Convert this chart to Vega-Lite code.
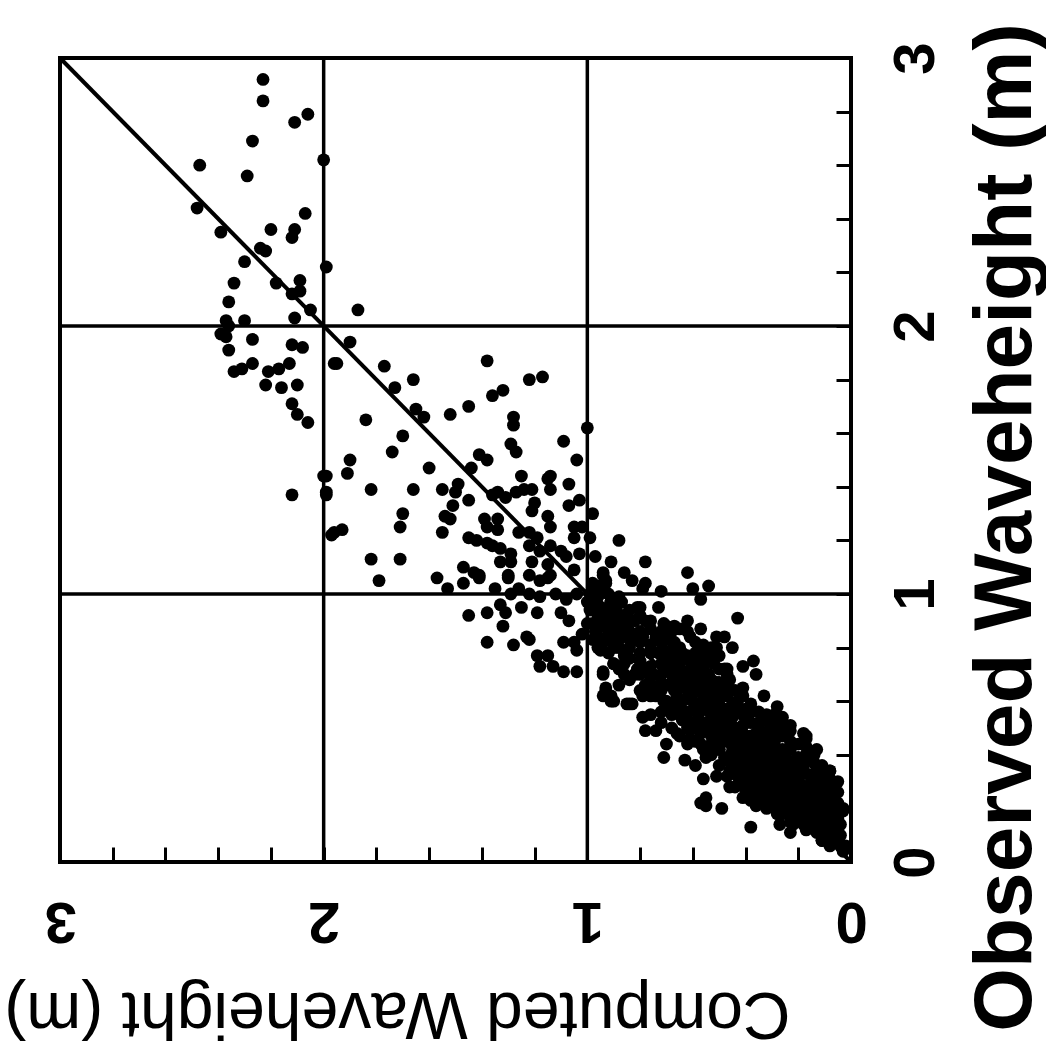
{
  "$schema": "https://vega.github.io/schema/vega-lite/v6.json",
  "autosize": {"type": "none"},
  "padding": {"left": 60, "top": 58, "right": 195, "bottom": 196},
  "width": 791,
  "height": 804,
  "background": "white",
  "config": {
    "view": {"stroke": "black", "strokeWidth": 4},
    "axis": {"domain": false, "grid": false, "ticks": true, "tickColor": "black", "tickWidth": 3, "tickSize": -15, "labelFont": "Liberation Sans", "labelFontWeight": "bold", "labelColor": "black", "labelFontSize": 58, "titleColor": "black", "titleFont": "Liberation Sans", "labelOverlap": false, "labelFlush": false, "labelBound": false}
  },
  "datasets": {
    "pts": [
      {"c":2.23,"o":2.92},{"c":2.23,"o":2.84},{"c":2.11,"o":2.76},{"c":2.06,"o":2.79},{"c":2.27,"o":2.69},{"c":2.00,"o":2.62},{"c":2.47,"o":2.60},{"c":2.29,"o":2.56},{"c":2.48,"o":2.44},{"c":2.07,"o":2.42},{"c":2.20,"o":2.36},{"c":2.11,"o":2.36},{"c":2.12,"o":2.33},{"c":2.39,"o":2.35},{"c":2.24,"o":2.29},{"c":2.22,"o":2.28},{"c":2.30,"o":2.24},{"c":1.99,"o":2.22},{"c":2.34,"o":2.16},{"c":2.18,"o":2.16},{"c":2.09,"o":2.17},{"c":2.12,"o":2.12},{"c":2.09,"o":2.13},{"c":2.36,"o":2.09},{"c":2.05,"o":2.06},{"c":2.11,"o":2.03},{"c":2.30,"o":2.02},{"c":2.37,"o":2.02},{"c":2.36,"o":2.00},
      {"c":2.39,"o":1.97},{"c":2.37,"o":1.96},{"c":2.27,"o":1.95},{"c":2.36,"o":1.91},{"c":2.12,"o":1.93},{"c":2.08,"o":1.92},{"c":2.34,"o":1.83},{"c":2.31,"o":1.84},{"c":2.27,"o":1.86},{"c":2.13,"o":1.86},{"c":2.17,"o":1.84},{"c":2.21,"o":1.83},{"c":2.22,"o":1.78},{"c":2.16,"o":1.77},{"c":2.10,"o":1.78},{"c":2.12,"o":1.71},{"c":2.10,"o":1.67},{"c":2.06,"o":1.64},{"c":1.99,"o":1.44},{"c":1.99,"o":1.37},{"c":2.12,"o":1.37},{"c":1.96,"o":1.23},{"c":1.96,"o":1.86},
      {"c":1.87,"o":2.06},{"c":1.90,"o":1.94},{"c":1.95,"o":1.86},{"c":1.77,"o":1.85},{"c":1.66,"o":1.80},{"c":1.73,"o":1.77},{"c":1.38,"o":1.87},{"c":1.22,"o":1.80},{"c":1.17,"o":1.81},{"c":1.36,"o":1.74},{"c":1.32,"o":1.76},{"c":1.45,"o":1.70},{"c":1.52,"o":1.67},{"c":1.65,"o":1.69},{"c":1.62,"o":1.66},{"c":1.84,"o":1.65},{"c":1.28,"o":1.66},{"c":1.28,"o":1.63},{"c":1.00,"o":1.62},{"c":1.70,"o":1.59},{"c":1.09,"o":1.57},{"c":1.29,"o":1.56},{"c":1.27,"o":1.53},{"c":1.74,"o":1.53},{"c":1.41,"o":1.52},{"c":1.38,"o":1.50},{"c":1.90,"o":1.50},{"c":1.04,"o":1.50},{"c":1.91,"o":1.45},{"c":1.60,"o":1.47},{"c":1.44,"o":1.47},{"c":1.25,"o":1.44},{"c":1.14,"o":1.44},{"c":1.15,"o":1.43},{"c":1.07,"o":1.41},{"c":2.00,"o":1.44},{"c":1.99,"o":1.38},{"c":1.82,"o":1.39},{"c":1.66,"o":1.39},{"c":1.55,"o":1.39},{"c":1.49,"o":1.41},{"c":1.50,"o":1.38},{"c":1.21,"o":1.39},{"c":1.45,"o":1.35},{"c":1.36,"o":1.37},{"c":1.34,"o":1.38},{"c":1.31,"o":1.36},{"c":1.27,"o":1.38},{"c":1.24,"o":1.39},{"c":1.20,"o":1.34},{"c":1.21,"o":1.31},{"c":1.14,"o":1.39},{"c":1.07,"o":1.33},{"c":1.03,"o":1.35},{"c":1.70,"o":1.30},{"c":1.71,"o":1.25},{"c":1.51,"o":1.33},{"c":1.54,"o":1.29},{"c":1.52,"o":1.28},{"c":1.93,"o":1.24},{"c":1.97,"o":1.22},{"c":1.55,"o":1.23},{"c":1.39,"o":1.28},{"c":1.34,"o":1.28},{"c":1.38,"o":1.25},{"c":1.34,"o":1.24},{"c":1.15,"o":1.29},{"c":1.14,"o":1.25},{"c":1.05,"o":1.25},{"c":1.02,"o":1.25},{"c":0.98,"o":1.30},{"c":1.05,"o":1.21},{"c":0.99,"o":1.21},{"c":1.45,"o":1.21},{"c":1.42,"o":1.20},{"c":1.38,"o":1.19},{"c":1.36,"o":1.18},{"c":1.33,"o":1.17},{"c":1.29,"o":1.15},{"c":1.26,"o":1.23},{"c":1.22,"o":1.23},{"c":1.19,"o":1.21},{"c":1.22,"o":1.18},{"c":1.18,"o":1.16},{"c":1.14,"o":1.18},{"c":1.10,"o":1.16},{"c":1.08,"o":1.14},{"c":1.03,"o":1.15},{"c":1.33,"o":1.12},{"c":1.29,"o":1.12},{"c":1.21,"o":1.12},{"c":1.15,"o":1.11},{"c":1.82,"o":1.13},{"c":1.71,"o":1.13},{"c":1.47,"o":1.10},{"c":1.43,"o":1.08},{"c":1.41,"o":1.07},{"c":1.57,"o":1.06},{"c":1.30,"o":1.07},{"c":1.22,"o":1.07},{"c":1.14,"o":1.07},{"c":1.05,"o":1.09},{"c":1.79,"o":1.05},
      {"c":1.41,"o":1.06},{"c":1.47,"o":1.04},{"c":1.53,"o":1.02},{"c":1.30,"o":1.06},{"c":1.35,"o":1.02},{"c":1.18,"o":1.05},{"c":1.15,"o":1.06},{"c":1.26,"o":1.02},{"c":1.29,"o":1.00},{"c":1.22,"o":1.00},{"c":1.18,"o":0.99},{"c":1.12,"o":1.00},{"c":1.45,"o":0.92},{"c":1.38,"o":0.93},{"c":1.33,"o":0.96},{"c":1.31,"o":0.93},{"c":1.25,"o":0.95},{"c":1.19,"o":0.93},{"c":1.32,"o":0.88},{"c":1.38,"o":0.82},{"c":1.28,"o":0.81},{"c":1.23,"o":0.84},{"c":1.22,"o":0.83},{"c":1.19,"o":0.77},{"c":1.15,"o":0.77},{"c":1.18,"o":0.73},{"c":1.13,"o":0.73},{"c":1.09,"o":0.71},{"c":1.04,"o":0.71},{"c":1.10,"o":0.93},{"c":1.07,"o":0.90},{"c":1.09,"o":0.82},{"c":1.05,"o":0.82},{"c":1.04,"o":0.79},{"c":1.08,"o":0.98},{"c":1.04,"o":1.00},{"c":1.00,"o":0.89},{"c":1.02,"o":0.85},{"c":0.96,"o":0.90},{"c":0.93,"o":0.88},{"c":0.98,"o":0.83},{"c":0.94,"o":0.82},{"c":0.90,"o":0.84},{"c":0.99,"o":1.00},{"c":0.96,"o":1.03},{"c":0.93,"o":1.05},{"c":0.94,"o":1.08},{"c":0.91,"o":0.97},{"c":0.90,"o":0.74},{"c":0.94,"o":0.70},{"c":0.93,"o":0.64},{"c":0.90,"o":0.60},
      {"c":0.88,"o":1.20},{"c":0.97,"o":1.14},{"c":0.91,"o":1.12},{"c":0.86,"o":1.08},{"c":0.83,"o":1.05},{"c":0.78,"o":1.12},{"c":0.62,"o":1.08},{"c":0.78,"o":1.04},{"c":0.79,"o":1.02},{"c":0.72,"o":1.01},{"c":0.60,"o":1.02},{"c":0.54,"o":1.03},{"c":0.57,"o":0.98},{"c":0.94,"o":1.07},{"c":0.91,"o":0.97},{"c":0.43,"o":0.91},{"c":0.81,"o":0.95},{"c":0.73,"o":0.95},{"c":0.78,"o":0.90},{"c":0.70,"o":0.88},{"c":0.62,"o":0.90},{"c":0.57,"o":0.87},{"c":0.61,"o":0.84},{"c":0.51,"o":0.84},{"c":0.48,"o":0.84},{"c":0.51,"o":0.80},{"c":0.45,"o":0.80},{"c":0.96,"o":0.92},{"c":0.89,"o":0.90},{"c":0.85,"o":0.86},{"c":0.96,"o":0.84},{"c":0.93,"o":0.83},{"c":0.79,"o":0.84},{"c":0.74,"o":0.83},{"c":0.67,"o":0.82},{"c":0.76,"o":0.78},{"c":0.70,"o":0.77},{"c":0.64,"o":0.78},{"c":0.59,"o":0.78},{"c":0.56,"o":0.74},{"c":0.90,"o":0.74},{"c":0.86,"o":0.77},{"c":0.86,"o":0.70},{"c":0.94,"o":0.71},{"c":0.93,"o":0.65},{"c":0.88,"o":0.66},{"c":0.81,"o":0.72},{"c":0.76,"o":0.69},{"c":0.70,"o":0.73},{"c":0.65,"o":0.70},{"c":0.60,"o":0.72},{"c":0.54,"o":0.70},{"c":0.47,"o":0.72},{"c":0.41,"o":0.73},{"c":0.37,"o":0.75},{"c":0.36,"o":0.70},{"c":0.41,"o":0.65},{"c":0.33,"o":0.62},{"c":0.46,"o":0.68},{"c":0.51,"o":0.67},{"c":0.74,"o":0.65},{"c":0.67,"o":0.64},{"c":0.61,"o":0.65},{"c":0.56,"o":0.64},{"c":0.91,"o":0.62},{"c":0.85,"o":0.59},{"c":0.79,"o":0.62},{"c":0.71,"o":0.60},{"c":0.64,"o":0.60},{"c":0.57,"o":0.59},{"c":0.50,"o":0.62},{"c":0.45,"o":0.59},
      {"c":0.98,"o":1.00},{"c":0.95,"o":0.95},{"c":0.98,"o":0.89},{"c":0.91,"o":0.87},{"c":0.85,"o":0.89},{"c":0.88,"o":0.83},{"c":0.83,"o":0.85},{"c":0.98,"o":1.04},{"c":0.93,"o":1.04},
      {"c":0.91,"o":0.60},{"c":0.84,"o":0.59},{"c":0.79,"o":0.54},{"c":0.78,"o":0.49},{"c":0.74,"o":0.49},{"c":0.70,"o":0.44},{"c":0.71,"o":0.39},{"c":0.63,"o":0.38},{"c":0.59,"o":0.36},{"c":0.55,"o":0.39},{"c":0.56,"o":0.31},{"c":0.51,"o":0.32},{"c":0.46,"o":0.28},{"c":0.55,"o":0.24},{"c":0.57,"o":0.22},{"c":0.55,"o":0.21},{"c":0.49,"o":0.20},{"c":0.38,"o":0.13},{"c":0.27,"o":0.14},{"c":0.23,"o":0.11},{"c":0.68,"o":0.55},{"c":0.66,"o":0.48},{"c":0.61,"o":0.46},{"c":0.57,"o":0.44},{"c":0.64,"o":0.53},{"c":0.59,"o":0.52},{"c":0.54,"o":0.51},{"c":0.54,"o":0.58},{"c":0.48,"o":0.57},{"c":0.43,"o":0.56},{"c":0.38,"o":0.56},{"c":0.31,"o":0.52},{"c":0.17,"o":0.46},{"c":0.08,"o":0.34},{"c":0.03,"o":0.20},{"c":0.12,"o":0.13},{"c":0.05,"o":0.11},
      {"c":0.48,"o":0.48},{"c":0.42,"o":0.46},{"c":0.36,"o":0.48},{"c":0.30,"o":0.44},{"c":0.23,"o":0.42},{"c":0.21,"o":0.38},{"c":0.26,"o":0.37},{"c":0.32,"o":0.38},{"c":0.38,"o":0.39},{"c":0.45,"o":0.41},{"c":0.50,"o":0.42},{"c":0.46,"o":0.34},{"c":0.40,"o":0.33},{"c":0.33,"o":0.32},{"c":0.27,"o":0.31},{"c":0.21,"o":0.31},{"c":0.14,"o":0.33},{"c":0.13,"o":0.27},{"c":0.18,"o":0.26},{"c":0.24,"o":0.24},{"c":0.31,"o":0.24},{"c":0.37,"o":0.26},{"c":0.41,"o":0.24},{"c":0.36,"o":0.21},{"c":0.28,"o":0.19},{"c":0.22,"o":0.19},{"c":0.16,"o":0.21},{"c":0.08,"o":0.23},{"c":0.11,"o":0.17},{"c":0.17,"o":0.16},{"c":0.22,"o":0.14},{"c":0.05,"o":0.16},{"c":0.08,"o":0.11},{"c":0.11,"o":0.08},{"c":0.05,"o":0.07},{"c":0.03,"o":0.05},{"c":0.13,"o":0.42},{"c":0.18,"o":0.48},{"c":0.23,"o":0.51},{"c":0.28,"o":0.47},{"c":0.12,"o":0.29},{"c":0.07,"o":0.28},{"c":0.28,"o":0.58},
      {"c":0.17,"o":0.47},{"c":0.08,"o":0.34},{"c":0.03,"o":0.19},{"c":0.04,"o":0.14},
      {"c":0.54,"o":0.65},{"c":0.47,"o":0.64},{"c":0.55,"o":0.58},{"c":0.50,"o":0.59},{"c":0.43,"o":0.60},{"c":0.40,"o":0.57},{"c":0.45,"o":0.54},{"c":0.50,"o":0.53},{"c":0.54,"o":0.49},{"c":0.47,"o":0.48},{"c":0.41,"o":0.51},{"c":0.35,"o":0.52},{"c":0.30,"o":0.49},{"c":0.26,"o":0.47},{"c":0.22,"o":0.44},{"c":0.32,"o":0.44},{"c":0.38,"o":0.44},{"c":0.45,"o":0.43},{"c":0.50,"o":0.42},{"c":0.42,"o":0.38},{"c":0.36,"o":0.38},{"c":0.28,"o":0.39},{"c":0.21,"o":0.38},{"c":0.16,"o":0.39},{"c":0.13,"o":0.34},{"c":0.19,"o":0.33},{"c":0.26,"o":0.33},{"c":0.32,"o":0.32},{"c":0.38,"o":0.33},{"c":0.43,"o":0.32},{"c":0.40,"o":0.27},{"c":0.33,"o":0.27},{"c":0.27,"o":0.27},{"c":0.21,"o":0.28},{"c":0.14,"o":0.28},{"c":0.09,"o":0.29},{"c":0.08,"o":0.24},{"c":0.13,"o":0.23},{"c":0.19,"o":0.23},{"c":0.26,"o":0.22},{"c":0.32,"o":0.22},{"c":0.36,"o":0.23},{"c":0.28,"o":0.18},{"c":0.22,"o":0.18},{"c":0.16,"o":0.18},{"c":0.11,"o":0.19},{"c":0.07,"o":0.17},{"c":0.12,"o":0.14},{"c":0.18,"o":0.14},{"c":0.08,"o":0.11},{"c":0.05,"o":0.08},{"c":0.13,"o":0.11},{"c":0.11,"o":0.08},{"c":0.04,"o":0.06},{"c":0.03,"o":0.04},
      {"c":0.95,"o":1.02},{"c":0.91,"o":0.97},{"c":0.94,"o":0.88},{"c":0.89,"o":0.88},{"c":0.91,"o":0.83},{"c":0.86,"o":0.85},{"c":0.84,"o":0.86},{"c":0.95,"o":0.79},{"c":0.90,"o":0.80},{"c":0.80,"o":0.95},{"c":0.76,"o":0.90},{"c":0.71,"o":0.89},{"c":0.67,"o":0.88},{"c":0.79,"o":0.85},{"c":0.74,"o":0.84},{"c":0.69,"o":0.83},{"c":0.80,"o":0.82},{"c":0.76,"o":0.79},{"c":0.71,"o":0.79},{"c":0.66,"o":0.78},{"c":0.61,"o":0.75},{"c":0.56,"o":0.77},{"c":0.52,"o":0.74},{"c":0.48,"o":0.72},{"c":0.70,"o":0.72},{"c":0.65,"o":0.72},{"c":0.60,"o":0.70},{"c":0.55,"o":0.69},{"c":0.50,"o":0.67},{"c":0.72,"o":0.67},{"c":0.67,"o":0.65},{"c":0.62,"o":0.65},{"c":0.57,"o":0.64},{"c":0.52,"o":0.63},{"c":0.47,"o":0.62},{"c":0.76,"o":0.62},{"c":0.70,"o":0.60},{"c":0.65,"o":0.60},{"c":0.60,"o":0.60},{"c":0.55,"o":0.59},{"c":0.83,"o":0.59},{"c":0.94,"o":0.62},
      {"c":0.75,"o":0.70},{"c":0.72,"o":0.74},{"c":0.70,"o":0.66},{"c":0.68,"o":0.70},{"c":0.66,"o":0.62},{"c":0.64,"o":0.68},{"c":0.62,"o":0.56},{"c":0.60,"o":0.63},{"c":0.58,"o":0.66},{"c":0.58,"o":0.55},{"c":0.56,"o":0.60},{"c":0.53,"o":0.56},{"c":0.52,"o":0.50},{"c":0.50,"o":0.55},{"c":0.49,"o":0.45},{"c":0.47,"o":0.51},{"c":0.46,"o":0.56},{"c":0.44,"o":0.47},{"c":0.43,"o":0.43},{"c":0.41,"o":0.48},{"c":0.40,"o":0.41},{"c":0.39,"o":0.36},{"c":0.37,"o":0.42},{"c":0.35,"o":0.46},{"c":0.35,"o":0.35},{"c":0.34,"o":0.40},{"c":0.33,"o":0.30},{"c":0.31,"o":0.36},{"c":0.30,"o":0.41},{"c":0.29,"o":0.28},{"c":0.28,"o":0.34},{"c":0.26,"o":0.29},{"c":0.25,"o":0.40},{"c":0.24,"o":0.35},{"c":0.23,"o":0.27},{"c":0.22,"o":0.32},{"c":0.20,"o":0.25},{"c":0.19,"o":0.29},{"c":0.18,"o":0.36},{"c":0.17,"o":0.21},{"c":0.16,"o":0.25},{"c":0.15,"o":0.30},{"c":0.14,"o":0.18},{"c":0.13,"o":0.21},{"c":0.12,"o":0.25},{"c":0.10,"o":0.14},{"c":0.10,"o":0.20},{"c":0.09,"o":0.16},{"c":0.07,"o":0.13},{"c":0.06,"o":0.09},{"c":0.06,"o":0.18},{"c":0.04,"o":0.10},{"c":0.02,"o":0.06},{"c":0.15,"o":0.13},{"c":0.20,"o":0.16},{"c":0.25,"o":0.20},{"c":0.30,"o":0.26},{"c":0.34,"o":0.25},{"c":0.39,"o":0.30},{"c":0.44,"o":0.37},{"c":0.48,"o":0.39},{"c":0.53,"o":0.44},{"c":0.57,"o":0.48},{"c":0.62,"o":0.50},{"c":0.66,"o":0.56},{"c":0.70,"o":0.58},{"c":0.74,"o":0.62},{"c":0.78,"o":0.66},{"c":0.82,"o":0.70},{"c":0.86,"o":0.74},{"c":0.88,"o":0.80},{"c":0.84,"o":0.80},{"c":0.80,"o":0.75},{"c":0.77,"o":0.72},{"c":0.73,"o":0.78},{"c":0.68,"o":0.76},{"c":0.63,"o":0.71},{"c":0.59,"o":0.69},{"c":0.55,"o":0.66},{"c":0.51,"o":0.60},{"c":0.46,"o":0.52},{"c":0.42,"o":0.44},{"c":0.37,"o":0.35},{"c":0.32,"o":0.29},{"c":0.27,"o":0.24},{"c":0.22,"o":0.21},{"c":0.17,"o":0.17},{"c":0.12,"o":0.12},{"c":0.09,"o":0.10},
      {"c":0.97,"o":0.97},{"c":0.95,"o":0.92},{"c":0.92,"o":0.93},{"c":0.99,"o":0.94},{"c":0.97,"o":0.86},{"c":0.93,"o":0.91},{"c":1.00,"o":0.97},{"c":0.96,"o":0.99},{"c":0.89,"o":0.94},{"c":0.86,"o":0.92},{"c":0.82,"o":0.90},{"c":0.84,"o":0.94},{"c":0.87,"o":0.97},
      {"c":0.05,"o":0.12},{"c":0.05,"o":0.22},{"c":0.05,"o":0.26},{"c":0.05,"o":0.30},{"c":0.08,"o":0.06},{"c":0.08,"o":0.20},{"c":0.08,"o":0.26},{"c":0.08,"o":0.31},{"c":0.11,"o":0.10},{"c":0.11,"o":0.22},{"c":0.11,"o":0.27},{"c":0.11,"o":0.32},{"c":0.11,"o":0.36},{"c":0.14,"o":0.15},{"c":0.14,"o":0.24},{"c":0.14,"o":0.31},{"c":0.14,"o":0.37},{"c":0.14,"o":0.40},{"c":0.17,"o":0.12},{"c":0.17,"o":0.19},{"c":0.17,"o":0.28},{"c":0.17,"o":0.33},{"c":0.17,"o":0.40},{"c":0.17,"o":0.43},{"c":0.20,"o":0.20},{"c":0.20,"o":0.29},{"c":0.20,"o":0.34},{"c":0.20,"o":0.39},{"c":0.20,"o":0.44},{"c":0.23,"o":0.15},{"c":0.23,"o":0.23},{"c":0.23,"o":0.30},{"c":0.23,"o":0.37},{"c":0.23,"o":0.45},{"c":0.23,"o":0.49},{"c":0.26,"o":0.18},{"c":0.26,"o":0.26},{"c":0.26,"o":0.36},{"c":0.26,"o":0.42},{"c":0.26,"o":0.50},{"c":0.26,"o":0.54},{"c":0.29,"o":0.22},{"c":0.29,"o":0.31},{"c":0.29,"o":0.37},{"c":0.29,"o":0.45},{"c":0.29,"o":0.51},{"c":0.29,"o":0.55},{"c":0.32,"o":0.20},{"c":0.32,"o":0.27},{"c":0.32,"o":0.35},{"c":0.32,"o":0.41},{"c":0.32,"o":0.48},{"c":0.32,"o":0.55},{"c":0.35,"o":0.28},{"c":0.35,"o":0.31},{"c":0.35,"o":0.43},{"c":0.35,"o":0.50},{"c":0.35,"o":0.56},{"c":0.38,"o":0.23},{"c":0.38,"o":0.29},{"c":0.38,"o":0.37},{"c":0.38,"o":0.47},{"c":0.38,"o":0.52},{"c":0.38,"o":0.59},{"c":0.41,"o":0.30},{"c":0.41,"o":0.36},{"c":0.41,"o":0.42},{"c":0.41,"o":0.55},{"c":0.41,"o":0.62},{"c":0.44,"o":0.28},{"c":0.44,"o":0.34},{"c":0.44,"o":0.41},{"c":0.44,"o":0.50},{"c":0.44,"o":0.57},{"c":0.44,"o":0.64},{"c":0.47,"o":0.32},{"c":0.47,"o":0.38},{"c":0.47,"o":0.45},{"c":0.47,"o":0.55},{"c":0.47,"o":0.66},{"c":0.47,"o":0.70},{"c":0.50,"o":0.36},{"c":0.50,"o":0.47},{"c":0.50,"o":0.51},{"c":0.50,"o":0.58},{"c":0.50,"o":0.64},{"c":0.50,"o":0.72},{"c":0.50,"o":0.77},{"c":0.53,"o":0.40},{"c":0.53,"o":0.47},{"c":0.53,"o":0.53},{"c":0.53,"o":0.61},{"c":0.53,"o":0.68},{"c":0.53,"o":0.76},{"c":0.53,"o":0.80},{"c":0.56,"o":0.42},{"c":0.56,"o":0.52},{"c":0.56,"o":0.57},{"c":0.56,"o":0.62},{"c":0.56,"o":0.72},{"c":0.56,"o":0.81},{"c":0.59,"o":0.45},{"c":0.59,"o":0.50},{"c":0.59,"o":0.58},{"c":0.59,"o":0.64},{"c":0.59,"o":0.74},{"c":0.59,"o":0.82},{"c":0.62,"o":0.44},{"c":0.62,"o":0.53},{"c":0.62,"o":0.61},{"c":0.62,"o":0.68},{"c":0.62,"o":0.77},{"c":0.62,"o":0.86},{"c":0.65,"o":0.47},{"c":0.65,"o":0.57},{"c":0.65,"o":0.65},{"c":0.65,"o":0.74},{"c":0.65,"o":0.80},{"c":0.65,"o":0.87},{"c":0.68,"o":0.50},{"c":0.68,"o":0.59},{"c":0.68,"o":0.67},{"c":0.68,"o":0.73},{"c":0.68,"o":0.79},{"c":0.68,"o":0.86},{"c":0.72,"o":0.52},{"c":0.72,"o":0.56},{"c":0.72,"o":0.64},{"c":0.72,"o":0.70},{"c":0.72,"o":0.82},{"c":0.72,"o":0.86},{"c":0.76,"o":0.55},{"c":0.76,"o":0.66},{"c":0.76,"o":0.73},{"c":0.76,"o":0.81},{"c":0.76,"o":0.87},{"c":0.80,"o":0.64},{"c":0.80,"o":0.70},{"c":0.80,"o":0.78},{"c":0.80,"o":0.86},{"c":0.80,"o":0.92},{"c":0.84,"o":0.68},{"c":0.84,"o":0.76},{"c":0.84,"o":0.83},{"c":0.84,"o":0.90},{"c":0.88,"o":0.72},{"c":0.88,"o":0.86},{"c":0.88,"o":0.92},{"c":0.88,"o":0.99},{"c":0.92,"o":0.78},{"c":0.92,"o":0.86},{"c":0.92,"o":0.95},{"c":0.92,"o":1.00},{"c":0.96,"o":0.80},{"c":0.96,"o":0.88},{"c":0.96,"o":0.96},{"c":0.96,"o":1.01}
    ],
    "grid": [{"g": 1}, {"g": 2}],
    "diag": [{"c": 0, "o": 0}, {"c": 3, "o": 3}]
  },
  "layer": [
    {
      "data": {"name": "grid"},
      "mark": {"type": "rule", "color": "black", "strokeWidth": 3.5},
      "encoding": {
        "x": {"field": "g", "type": "quantitative", "scale": {"domain": [0, 3], "reverse": true}, "title": "Computed Waveheight (m)"}
      }
    },
    {
      "data": {"name": "grid"},
      "mark": {"type": "rule", "color": "black", "strokeWidth": 3.5},
      "encoding": {
        "y": {"field": "g", "type": "quantitative", "scale": {"domain": [0, 3]}, "title": "Observed Waveheight (m)"}
      }
    },
    {
      "data": {"name": "diag"},
      "mark": {"type": "line", "color": "black", "strokeWidth": 4},
      "encoding": {
        "x": {"field": "c", "type": "quantitative", "title": "Computed Waveheight (m)"},
        "y": {"field": "o", "type": "quantitative", "title": "Observed Waveheight (m)"}
      }
    },
    {
      "data": {"name": "pts"},
      "mark": {"type": "circle", "size": 165, "color": "black", "opacity": 1},
      "encoding": {
        "x": {
          "field": "c", "type": "quantitative", "scale": {"domain": [0, 3], "reverse": true},
          "title": "Computed Waveheight (m)",
          "axis": {
            "values": [0, 0.2, 0.4, 0.6, 0.8, 1, 1.2, 1.4, 1.6, 1.8, 2, 2.2, 2.4, 2.6, 2.8, 3],
            "labelExpr": "abs(datum.value - round(datum.value)) < 0.01 ? format(datum.value, 'd') : ''",
            "labelAngle": 180, "labelAlign": "center", "labelBaseline": "middle", "labelPadding": 72,
            "titleAngle": 180, "titleFontSize": 66, "titleFontWeight": "normal", "titleAlign": "center", "titleBaseline": "middle", "titleX": 337, "titleY": 150
          }
        },
        "y": {
          "field": "o", "type": "quantitative", "scale": {"domain": [0, 3]},
          "title": "Observed Waveheight (m)",
          "axis": {
            "orient": "right",
            "values": [0, 0.2, 0.4, 0.6, 0.8, 1, 1.2, 1.4, 1.6, 1.8, 2, 2.2, 2.4, 2.6, 2.8, 3],
            "labelExpr": "abs(datum.value - round(datum.value)) < 0.01 ? format(datum.value, 'd') : ''",
            "labelAngle": 270, "labelAlign": "center", "labelBaseline": "middle", "labelPadding": 80,
            "titleAngle": 270, "titleFontSize": 82, "titleFontWeight": "bold", "titleAlign": "center", "titleBaseline": "middle", "titleX": 154, "titleY": 469
          }
        }
      }
    }
  ]
}
